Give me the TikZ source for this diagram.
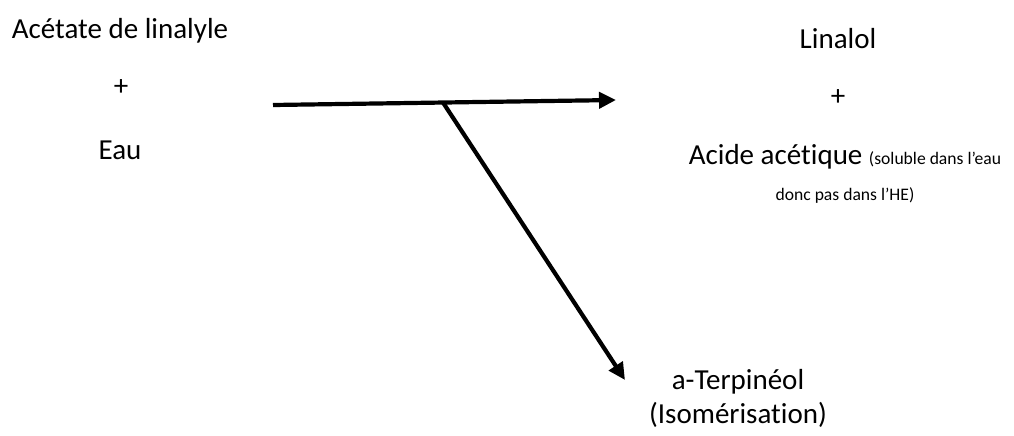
\documentclass[tikz,border=0pt]{standalone}
\usepackage{fontspec}
\setmainfont{Carlito}[Ligatures={NoCommon}]
\usetikzlibrary{arrows.meta}

\newcommand{\bigtxt}{\fontsize{14.5}{17}\selectfont}
\newcommand{\smalltxt}{\fontsize{8.8}{10.5}\selectfont}

\tikzset{
    chem/.style={inner sep=0pt, font=\bigtxt, align=center},
    rxn/.style={line width=2.1pt, -{Triangle[length=8.5pt,width=8pt]}}
}

\begin{document}
\begin{tikzpicture}[x=0.5pt,y=-0.5pt]
    \useasboundingbox (0,0) rectangle (1014,435);

    % Left side: reactants
    \node[chem] (acetate) at (120,31) {Acétate de linalyle};
    \node[chem] (plusA) at (121,88) {+};
    \node[chem] (eau) at (120,150) {Eau};

    % Right side: products
    \node[chem] (linalol) at (838,39) {Linalol};
    \node[chem] (plusB) at (838,98) {+};
    \node[chem] (acide) at (845,174)
        {Acide acétique {\smalltxt (soluble dans l’eau}\\[1pt]{\smalltxt donc pas dans l’HE)}};

    % Side product
    \node[chem] (terpineol) at (738,398) {a-Terpinéol\\(Isomérisation)};

    % Arrows
    \coordinate (start) at (273,105);
    \coordinate (branch) at (443,102.5);
    \coordinate (tipA) at (616,100);
    \coordinate (tipB) at (625,380);
    \draw[rxn] (start) -- (tipA);
    \draw[rxn] (branch) -- (tipB);
\end{tikzpicture}
\end{document}
